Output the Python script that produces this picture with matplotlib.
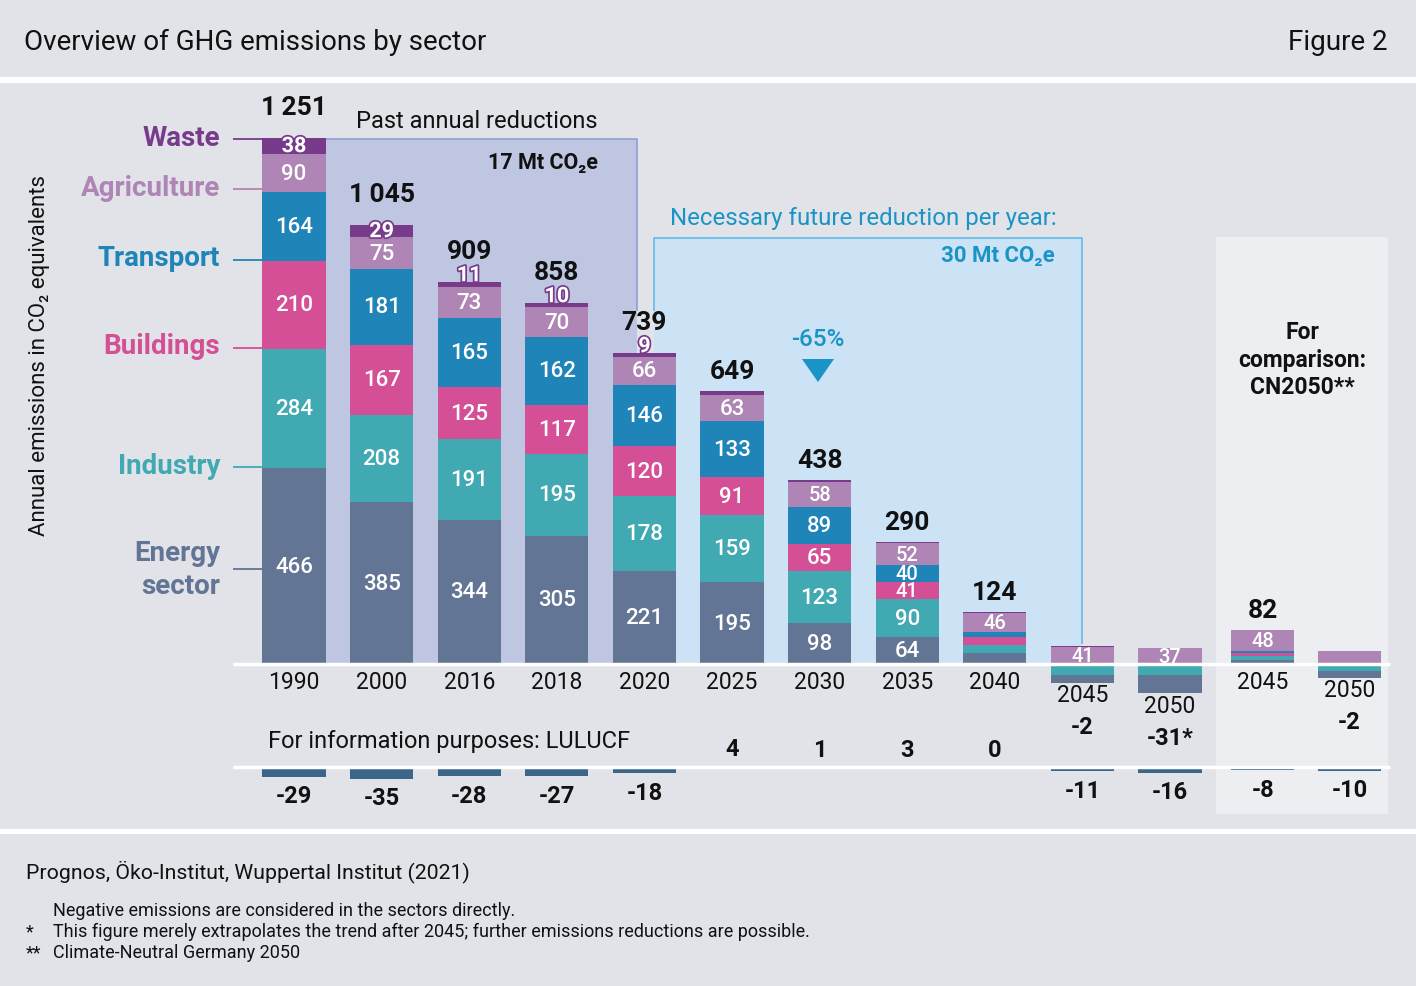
import numpy as np
import matplotlib.pyplot as plt
from matplotlib.patches import Rectangle, Polygon
import matplotlib.patheffects as pe

plt.rcParams['font.family'] = ['Roboto', 'DejaVu Sans']

# data (Mt CO2e), last two columns = CN2050 comparison
years = ['1990', '2000', '2016', '2018', '2020', '2025', '2030', '2035', '2040', '2045', '2050', '2045', '2050']
energy = [466, 385, 344, 305, 221, 195, 98, 64, 26, -20, -45, 10, -17]
industry = [284, 208, 191, 195, 178, 159, 123, 90, 19, -25, -25, 8, -16]
buildings = [210, 167, 125, 117, 120, 91, 65, 41, 19, 0, 0, 9, 0]
transport = [164, 181, 165, 162, 146, 133, 89, 40, 12, 0, 0, 5, 0]
agriculture = [90, 75, 73, 70, 66, 63, 58, 52, 46, 41, 37, 48, 31]
waste = [38, 29, 11, 10, 9, 8, 5, 3, 2, 2, 2, 2, 0]
totals = ['1\u2009251', '1\u2009045', '909', '858', '739', '649', '438', '290', '124', '-2', '-31*', '82', '-2']
lulucf = [-29, -35, -28, -27, -18, 4, 1, 3, 0, -11, -16, -8, -10]

sectors = ['Energy\nsector', 'Industry', 'Buildings', 'Transport', 'Agriculture', 'Waste']
colors = ['#627594', '#40a9b1', '#d44f95', '#1f84b8', '#ae85b4', '#783b8c']
values = [energy, industry, buildings, transport, agriculture, waste]

# layout (pixels)
W, H = 1416, 987
X0, DX = 294, 87.6
Y0, SY = 665, 0.42
BG = '#e1e3e8'
BLUE = '#1a94c6'
INK = '#111111'

def ypx(p):
    return (Y0 - p) / SY

def fx(x):
    return x / W

def fy(y):
    return 1 - y / H

fig = plt.figure(figsize=(14.16, 9.87), dpi=100)
fig.patch.set_facecolor(BG)
ax = fig.add_axes([0, 0, 1, 1])
ax.set_xlim(-X0 / DX, (W - X0) / DX)
ax.set_ylim((Y0 - H) / SY, Y0 / SY)
ax.set_axis_off()

xpos = np.array(list(range(11)) + [11.06, 12.05])
bw = 0.72

def rect(x0, y0, x1, y1, color, z=0.5):
    ax.add_patch(Rectangle((fx(x0), fy(y1)), (x1 - x0) / W, (y1 - y0) / H,
                           transform=fig.transFigure, color=color, zorder=z, lw=0))

def line(xs, ys, color, lw=1.2, z=1):
    ax.plot([fx(x) for x in xs], [fy(y) for y in ys], color=color, lw=lw,
            transform=fig.transFigure, zorder=z, solid_capstyle='butt')

# white separators
rect(0, 78, W, 84, 'white')
rect(0, 830, W, 835, 'white')

# boxes behind the bars
rect(325, 140, 637, Y0, '#bec6e2')
line([325, 637, 637], [140, 140, 312], '#8d9fd2')
rect(654, 239, 1082, Y0, '#cce3f6')
line([654, 654, 1082, 1082], [312, 239, 239, 645], '#5fbbe8')
rect(1216, 238, 1388, 815, '#eceef2')

# negative parts stack downward starting from the top sectors (industry above energy)
n = len(years)
neg_start = []
acc = np.zeros(n)
for vals in values[::-1]:
    v = np.array(vals, dtype=float)
    neg_start.append(acc.copy())
    acc += np.where(v < 0, v, 0)
neg_start = neg_start[::-1]
neg_total = acc

# stacked bars
pos_bot = np.zeros(n)
for k, (vals, col) in enumerate(zip(values, colors)):
    v = np.array(vals, dtype=float)
    bottom = np.where(v >= 0, pos_bot, neg_start[k])
    ax.bar(xpos, v, bottom=bottom, width=bw, color=col, zorder=2, lw=0)
    for i in range(n):
        if col == colors[-1]:
            if i < 5:
                h = v[i] * SY
                yc = bottom[i] + v[i] / 2 if h >= 12 else bottom[i] + v[i] + 7 / SY
                ax.text(xpos[i], yc, str(int(v[i])), ha='center', va='center', color='white',
                        fontsize=15.5, fontweight='bold', zorder=5,
                        path_effects=[pe.withStroke(linewidth=2.5, foreground=col)])
        elif v[i] >= 32:
            fs = 16 if v[i] * SY >= 25 else 14.5
            ax.text(xpos[i], bottom[i] + v[i] / 2, str(int(v[i])), ha='center', va='center',
                    color='white', fontsize=fs, fontweight='medium', zorder=5)
    pos_bot += np.where(v >= 0, v, 0)

# zero line
line([233, 1390], [Y0, Y0], 'white', lw=2.5, z=3)

# totals and year labels
for i in range(n):
    if neg_total[i] < 0:
        yl = Y0 - neg_total[i] * SY + 12
        ax.text(xpos[i], ypx(yl), years[i], ha='center', va='center', fontsize=16.5, color=INK)
        ax.text(xpos[i], ypx(yl + 32), totals[i], ha='center', va='center', fontsize=17,
                fontweight='bold', color=INK)
    else:
        ax.text(xpos[i], ypx(683), years[i], ha='center', va='center', fontsize=16.5, color=INK)
        off = 31 if i < 5 else 20
        ax.text(xpos[i], pos_bot[i] + off / SY, totals[i], ha='center', va='center', fontsize=19,
                fontweight='bold', color=INK, zorder=5)

# LULUCF row
LBASE = 769
LS = 0.3 / SY
lv = np.array(lulucf, dtype=float)
ax.bar(xpos, lv * LS, bottom=ypx(LBASE), width=bw, zorder=2, lw=0,
       color=['#3a6689' if v < 0 else '#8aa5c6' for v in lulucf])
line([233, 1390], [LBASE - 1, LBASE - 1], 'white', lw=2.5, z=3)
for i, v in enumerate(lulucf):
    if v < 0:
        yl = LBASE - v * 0.3 + 19
    else:
        yl = LBASE - v * 0.3 - 18
    ax.text(xpos[i], ypx(yl), str(v), ha='center', va='center', fontsize=17,
            fontweight='bold', color=INK)
fig.text(fx(268), fy(742), 'For information purposes: LULUCF', ha='left', va='center',
         fontsize=17, color=INK)

# sector labels on the left
lab_y = [570, 468, 349, 261, 190, 140]
for name, col, yy in zip(sectors, colors, lab_y):
    line([233, 262], [yy, yy], col, lw=1.3, z=3)
    ty = yy - 2 if '\n' not in name else yy
    fig.text(fx(220), fy(ty), name, ha='right', va='center', fontsize=20,
             fontweight='bold', color=col, linespacing=1.3)

fig.text(fx(40), fy(355), 'Annual emissions in CO₂ equivalents', rotation=90,
         ha='center', va='center', fontsize=16, color=INK)

# annotations
fig.text(fx(477), fy(122), 'Past annual reductions', ha='center', va='center',
         fontsize=17, color=INK)
fig.text(fx(598), fy(163), '17 Mt CO₂e', ha='right', va='center', fontsize=15.5,
         fontweight='bold', color=INK)
fig.text(fx(670), fy(219), 'Necessary future reduction per year:', ha='left', va='center',
         fontsize=17.3, color=BLUE)
fig.text(fx(1055), fy(256), '30 Mt CO₂e', ha='right', va='center', fontsize=16,
         fontweight='bold', color=BLUE)
fig.text(fx(818), fy(340), '-65%', ha='center', va='center', fontsize=17.5,
         fontweight='medium', color=BLUE)
ax.add_patch(Polygon([(fx(802), fy(360)), (fx(834), fy(360)), (fx(818), fy(383))],
                     closed=True, transform=fig.transFigure, color=BLUE, zorder=4, lw=0))
fig.text(fx(1302), fy(360), 'For\ncomparison:\nCN2050**', ha='center', va='center',
         fontsize=16.5, fontweight='bold', color=INK, linespacing=1.25)

# header and footer
fig.text(fx(24), fy(42), 'Overview of GHG emissions by sector', ha='left', va='center',
         fontsize=20, color=INK)
fig.text(fx(1388), fy(42), 'Figure 2', ha='right', va='center', fontsize=20, color=INK)
fig.text(fx(26), fy(872), 'Prognos, Öko-Institut, Wuppertal Institut (2021)', ha='left',
         va='center', fontsize=15.3, color=INK)
notes = ['Negative emissions are considered in the sectors directly.',
         'This figure merely extrapolates the trend after 2045; further emissions reductions are possible.',
         'Climate-Neutral Germany 2050']
marks = ['', '*', '**']
for k, (m, txt) in enumerate(zip(marks, notes)):
    yy = 911 + 21 * k
    fig.text(fx(26), fy(yy), m, ha='left', va='center', fontsize=13, color=INK)
    fig.text(fx(53), fy(yy), txt, ha='left', va='center', fontsize=13, color=INK)

fig.savefig('out.png', dpi=100, facecolor=BG)
